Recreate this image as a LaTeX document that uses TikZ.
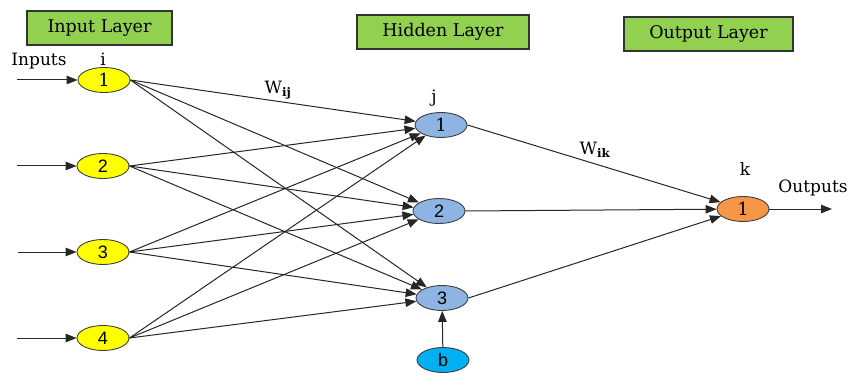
\documentclass[tikz,border=0pt]{standalone}
\usepackage{fontspec}
\setmainfont{DejaVu Serif}
\newfontfamily\numfont{Liberation Sans}
\usetikzlibrary{shapes.geometric,arrows.meta}
\definecolor{boxgreen}{RGB}{146,208,80}
\definecolor{inyellow}{RGB}{255,255,0}
\definecolor{hidblue}{RGB}{141,180,226}
\definecolor{outorange}{RGB}{247,150,70}
\definecolor{biasblue}{RGB}{0,176,240}
\tikzset{
  layerbox/.style={draw=black!80, line width=1.2pt, fill=boxgreen, minimum height=34pt, inner sep=0pt, font=\fontsize{17.5}{20}\selectfont},
  neuron/.style={ellipse, draw=black!75, line width=0.9pt, minimum width=52pt, minimum height=25pt, inner sep=0pt, font=\fontsize{18}{20}\selectfont},
  innode/.style={neuron, fill=inyellow},
  hidnode/.style={neuron, fill=hidblue},
  outnode/.style={neuron, fill=outorange},
  biasnode/.style={neuron, fill=biasblue},
  conn/.style={draw=black!85, line width=1pt, -{Triangle[length=11pt,width=8.5pt]}},
  lbl/.style={font=\fontsize{17}{19}\selectfont, inner sep=0pt}
}
\begin{document}
\begin{tikzpicture}[x=1pt,y=-1pt]
\useasboundingbox (0,0) rectangle (848,374);
\node[layerbox, minimum width=145pt] (bin) at (99.5,28) {Input Layer};
\node[layerbox, minimum width=172pt] (bhid) at (443,32) {Hidden Layer};
\node[layerbox, minimum width=169pt] (bout) at (708.5,34) {Output Layer};

\node[innode] (i1) at (104,80) {1};
\node[innode] (i2) at (103,166) {\numfont 2};
\node[innode] (i3) at (103,252) {\numfont 3};
\node[innode] (i4) at (103,338) {\numfont 4};

\node[hidnode] (h1) at (441,125) {1};
\node[hidnode] (h2) at (439,211) {\numfont 2};
\node[hidnode] (h3) at (442,298) {\numfont 3};
\node[biasnode] (b) at (443,360) {\numfont b};

\node[outnode] (o1) at (743,209) {1};

\coordinate (in1) at (17,80);
\coordinate (in2) at (17,166);
\coordinate (in3) at (18,252);
\coordinate (in4) at (17,338);
\coordinate (outend) at (832,209);

\foreach \k in {1,2,3,4} {
  \draw[conn] (in\k) -- (i\k);
  \foreach \h in {1,2,3} {
    \draw[conn] (i\k.east) -- (h\h);
  }
}
\foreach \h in {1,2,3} {
  \draw[conn] (h\h.east) -- (o1);
}
\draw[conn] (b) -- (h3);
\draw[conn] (o1) -- (outend);

\node[lbl] (tinputs) at (39,61) {Inputs};
\node[lbl] (ti) at (103,59) {i};
\node[lbl] (tj) at (434,98) {j};
\node[lbl] (tk) at (745,169) {k};
\node[lbl] (twij) at (278,90) {W\textsubscript{\bfseries ij}};
\node[lbl] (twik) at (595,150) {W\textsubscript{\bfseries ik}};
\node[lbl] (toutputs) at (813,188) {Outputs};
\end{tikzpicture}
\end{document}
